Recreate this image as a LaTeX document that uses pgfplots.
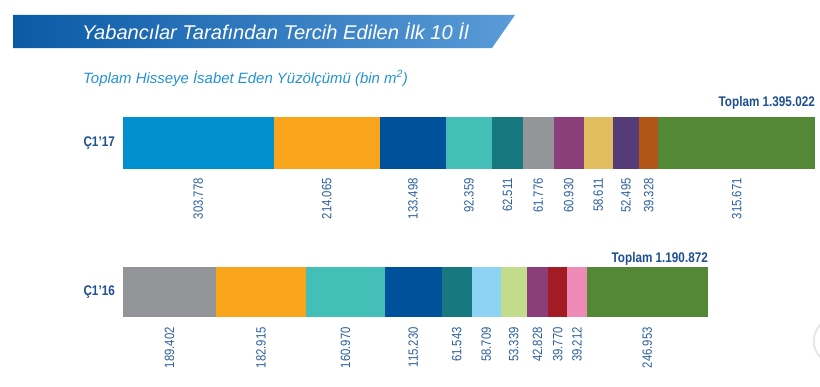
\documentclass[border=0pt]{standalone}
\usepackage{pgfplots}
\pgfplotsset{compat=1.18}
\usepackage{fontspec}
\usepackage{graphicx}
\setmainfont{Liberation Sans}
\newfontfamily\cond{Liberation Sans}[FakeStretch=0.84]
\definecolor{c1}{HTML}{0090D0}
\definecolor{c2}{HTML}{F9A51B}
\definecolor{c3}{HTML}{00519C}
\definecolor{c4}{HTML}{43BFB7}
\definecolor{c5}{HTML}{187880}
\definecolor{c6}{HTML}{939598}
\definecolor{c7}{HTML}{8B3F7A}
\definecolor{c8}{HTML}{E2BD5F}
\definecolor{c9}{HTML}{553B78}
\definecolor{c10}{HTML}{B25617}
\definecolor{c11}{HTML}{538837}
\definecolor{d6}{HTML}{8DD3F4}
\definecolor{d7}{HTML}{C2DC8C}
\definecolor{d9}{HTML}{A11D23}
\definecolor{d10}{HTML}{EF89B6}
\definecolor{lab}{HTML}{2A5E9E}
\definecolor{cat}{HTML}{1D4F91}
\definecolor{tl}{HTML}{0A5AA6}
\definecolor{tr}{HTML}{5A9BD8}
\definecolor{sub}{HTML}{2293D1}
\tikzset{vl/.style={yshift=#1,rotate=90,anchor=east,inner sep=0pt,text=lab,font=\cond\fontsize{13.5}{15}\selectfont}}
\begin{document}
\begin{tikzpicture}[x=1bp,y=1bp]
\path (0,0) rectangle (820,386);
\begin{scope}
\clip (0,0) rectangle (820,386);
\draw[black!6,line width=3bp] (837,45) circle (23);
\draw[black!12,line width=1bp,fill=white] (837,45) circle (23);
\end{scope}
% title banner
\shade[left color=tl,right color=tr] (13,338) -- (13,371) -- (515,371) -- (492,338) -- cycle;
\node[anchor=base west,inner sep=0pt,text=white,font=\fontsize{20}{22}\selectfont\itshape] at (82,347) {\scalebox{1.01}[1]{Yabancılar Tarafından Tercih Edilen İlk 10 İl}};
\node[anchor=base west,inner sep=0pt,text=sub,font=\fontsize{15}{17}\selectfont\itshape] at (83,303) {Toplam Hisseye İsabet Eden Yüzölçümü (bin m\textsuperscript{2})};
% bar 1
\begin{axis}[at={(123bp,217bp)},anchor=south west,scale only axis,
  width=692bp,height=52bp,xmin=0,xmax=1395022,ymin=-0.5,ymax=0.5,
  xbar stacked,bar width=52bp,hide axis,clip=false,enlargelimits=false]
\addplot[fill=c1,draw=none] coordinates {(303778,0)};
\addplot[fill=c2,draw=none] coordinates {(214065,0)};
\addplot[fill=c3,draw=none] coordinates {(133498,0)};
\addplot[fill=c4,draw=none] coordinates {(92359,0)};
\addplot[fill=c5,draw=none] coordinates {(62511,0)};
\addplot[fill=c6,draw=none] coordinates {(61776,0)};
\addplot[fill=c7,draw=none] coordinates {(60930,0)};
\addplot[fill=c8,draw=none] coordinates {(58611,0)};
\addplot[fill=c9,draw=none] coordinates {(52495,0)};
\addplot[fill=c10,draw=none] coordinates {(39328,0)};
\addplot[fill=c11,draw=none] coordinates {(315671,0)};
\node[vl=-9bp] at (axis cs:151889,-0.5) {303.778};
\node[vl=-9bp] at (axis cs:410810,-0.5) {214.065};
\node[vl=-9bp] at (axis cs:584592,-0.5) {133.498};
\node[vl=-9bp] at (axis cs:697520,-0.5) {92.359};
\node[vl=-9bp] at (axis cs:774955,-0.5) {62.511};
\node[vl=-9bp] at (axis cs:837099,-0.5) {61.776};
\node[vl=-9bp] at (axis cs:898452,-0.5) {60.930};
\node[vl=-9bp] at (axis cs:958222,-0.5) {58.611};
\node[vl=-9bp] at (axis cs:1013775,-0.5) {52.495};
\node[vl=-9bp] at (axis cs:1059687,-0.5) {39.328};
\node[vl=-9bp] at (axis cs:1237186,-0.5) {315.671};
\node[anchor=east,inner sep=0pt,text=cat,font=\cond\bfseries\fontsize{14}{16}\selectfont] at (axis cs:0,0) [xshift=-8bp] {Ç1’17};
\node[anchor=base east,inner sep=0pt,text=cat,font=\cond\bfseries\fontsize{14}{16}\selectfont] at (axis cs:1395022,0.5) [yshift=10bp] {Toplam 1.395.022};
\end{axis}
% bar 2
\begin{axis}[at={(123bp,69bp)},anchor=south west,scale only axis,
  width=585bp,height=50bp,xmin=0,xmax=1190872,ymin=-0.5,ymax=0.5,
  xbar stacked,bar width=50bp,hide axis,clip=false,enlargelimits=false]
\addplot[fill=c6,draw=none] coordinates {(189402,0)};
\addplot[fill=c2,draw=none] coordinates {(182915,0)};
\addplot[fill=c4,draw=none] coordinates {(160970,0)};
\addplot[fill=c3,draw=none] coordinates {(115230,0)};
\addplot[fill=c5,draw=none] coordinates {(61543,0)};
\addplot[fill=d6,draw=none] coordinates {(58709,0)};
\addplot[fill=d7,draw=none] coordinates {(53339,0)};
\addplot[fill=c7,draw=none] coordinates {(42828,0)};
\addplot[fill=d9,draw=none] coordinates {(39770,0)};
\addplot[fill=d10,draw=none] coordinates {(39212,0)};
\addplot[fill=c11,draw=none] coordinates {(246953,0)};
\node[vl=-10bp] at (axis cs:94701,-0.5) {189.402};
\node[vl=-10bp] at (axis cs:280859,-0.5) {182.915};
\node[vl=-10bp] at (axis cs:452802,-0.5) {160.970};
\node[vl=-10bp] at (axis cs:590902,-0.5) {115.230};
\node[vl=-10bp] at (axis cs:679288,-0.5) {61.543};
\node[vl=-10bp] at (axis cs:739414,-0.5) {58.709};
\node[vl=-10bp] at (axis cs:795438,-0.5) {53.339};
\node[vl=-10bp] at (axis cs:843522,-0.5) {42.828};
\node[vl=-10bp] at (axis cs:884821,-0.5) {39.770};
\node[vl=-10bp] at (axis cs:924312,-0.5) {39.212};
\node[vl=-10bp] at (axis cs:1067395,-0.5) {246.953};
\node[anchor=east,inner sep=0pt,text=cat,font=\cond\bfseries\fontsize{14}{16}\selectfont] at (axis cs:0,0) [xshift=-8bp] {Ç1’16};
\node[anchor=base east,inner sep=0pt,text=cat,font=\cond\bfseries\fontsize{14}{16}\selectfont] at (axis cs:1190872,0.5) [yshift=5bp] {Toplam 1.190.872};
\end{axis}
\end{tikzpicture}
\end{document}
